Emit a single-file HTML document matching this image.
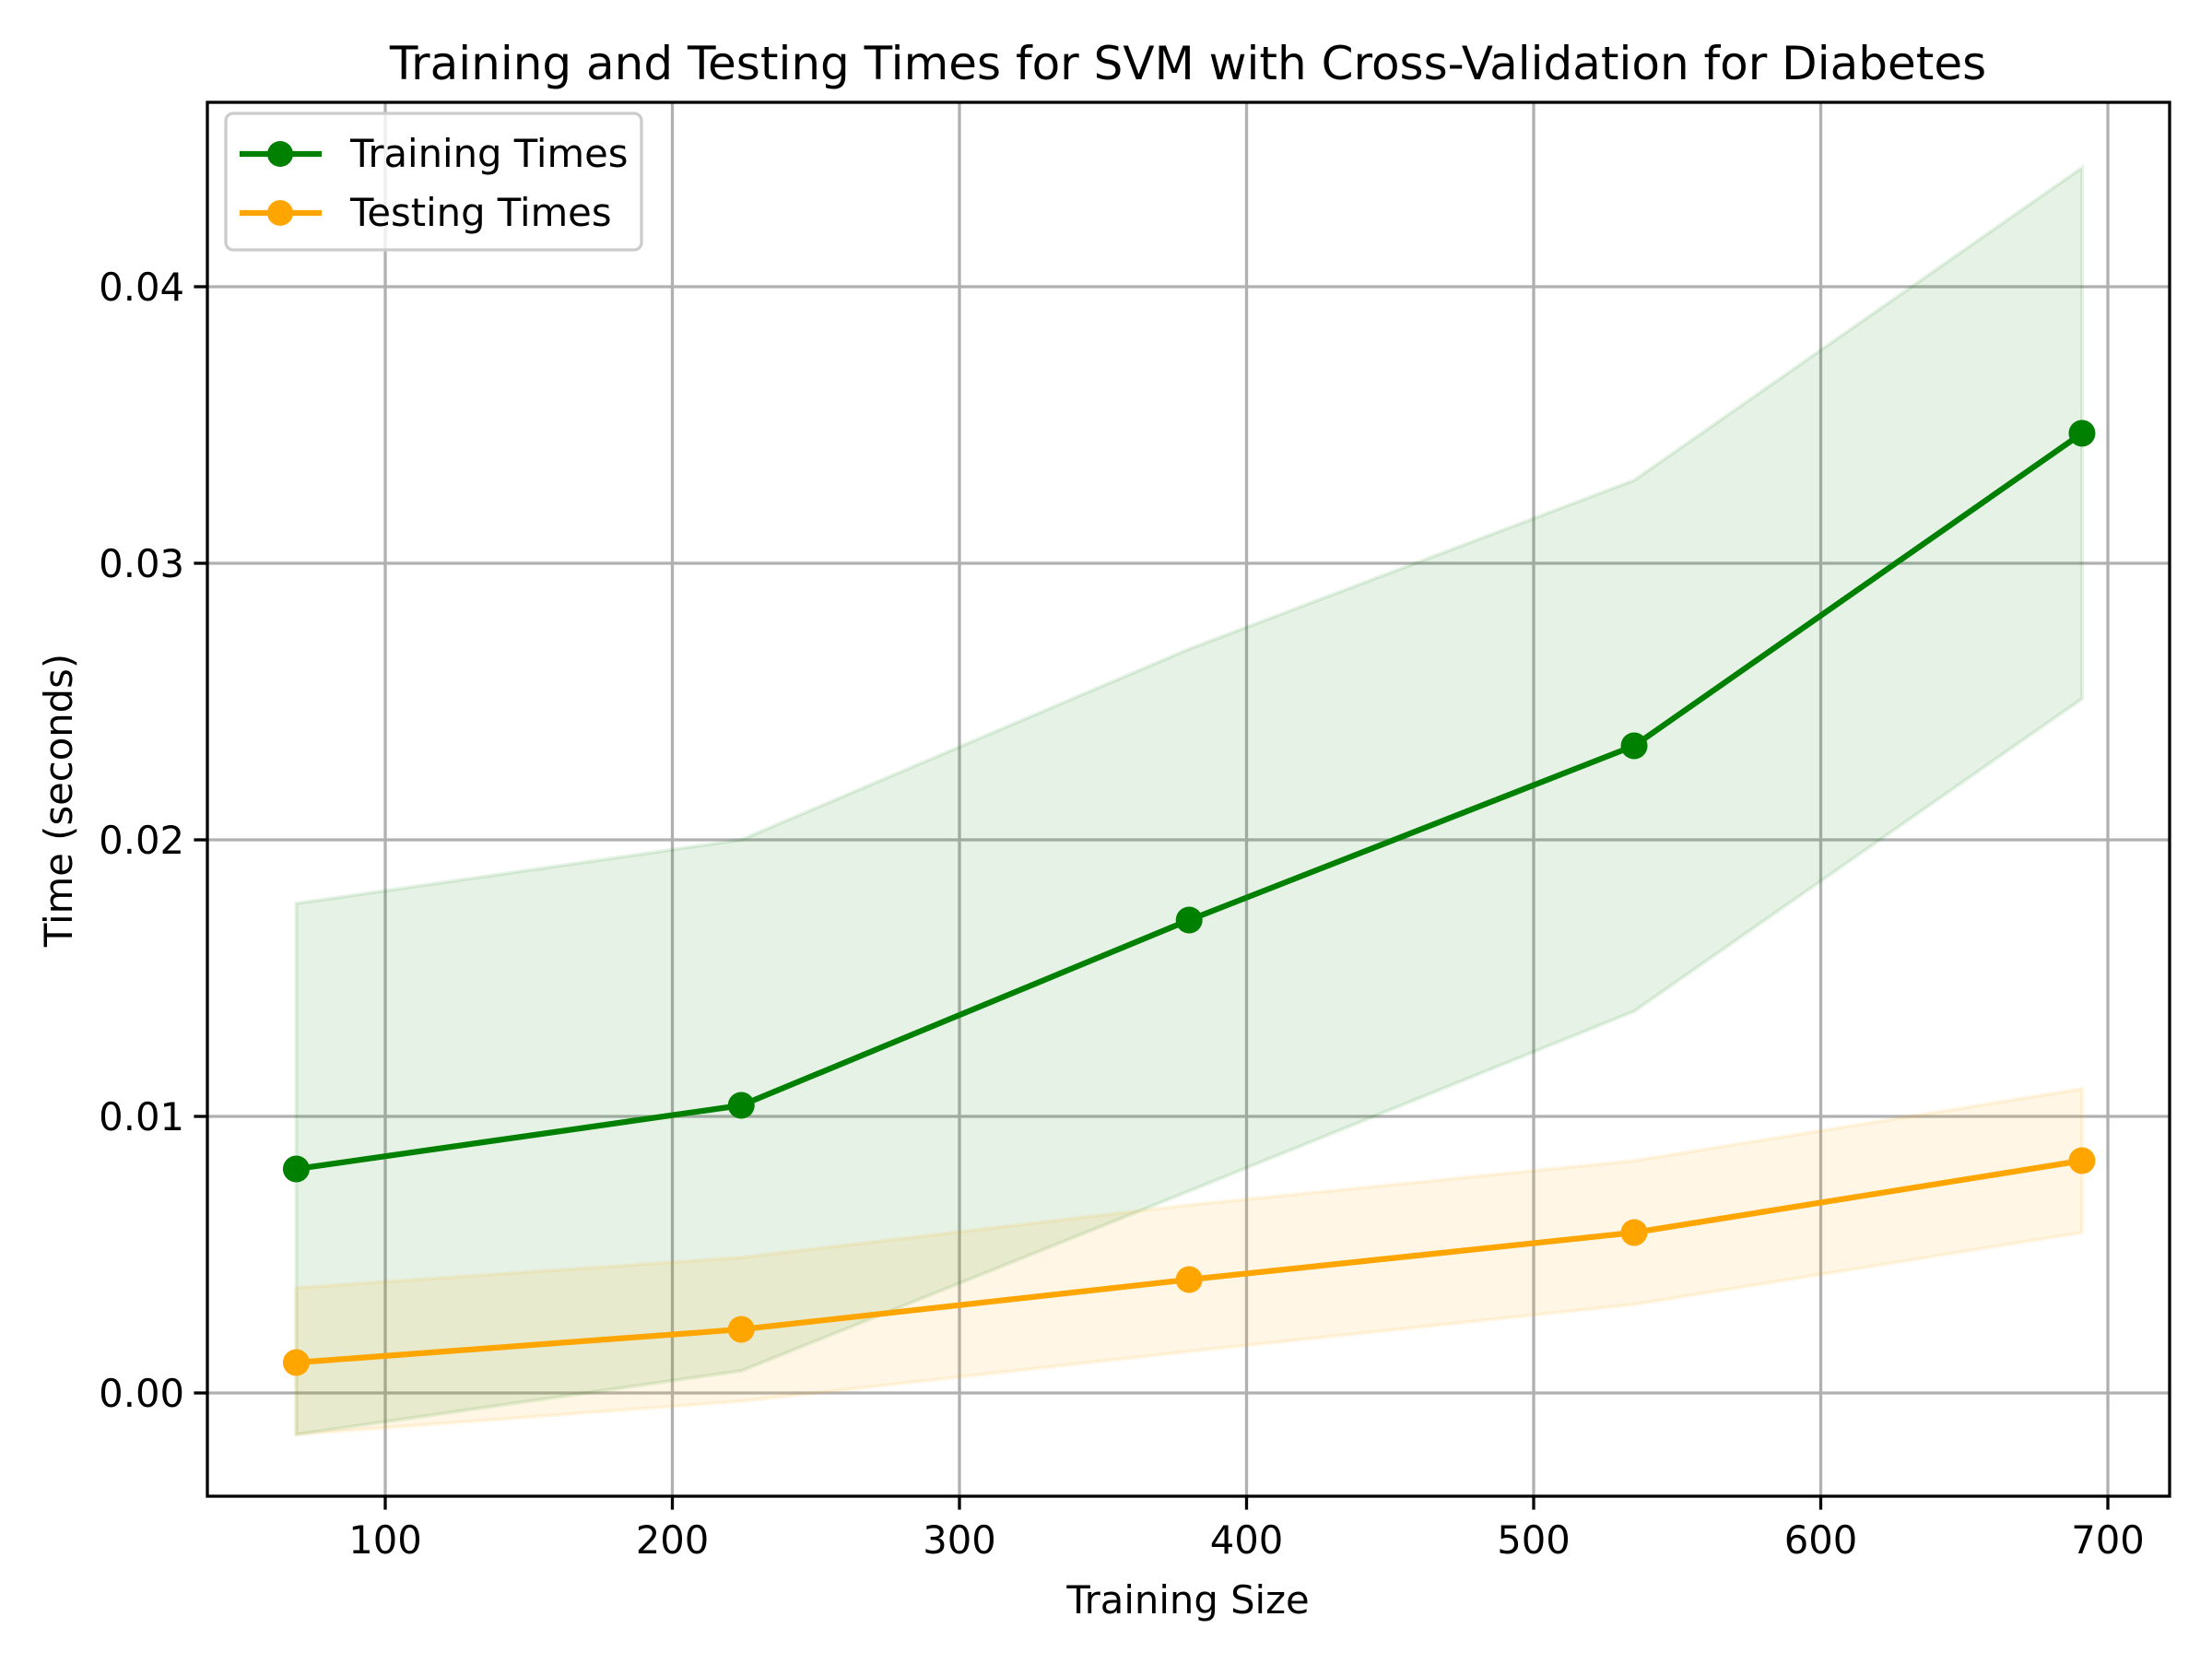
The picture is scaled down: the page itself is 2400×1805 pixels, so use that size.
<!DOCTYPE html>
<html><head><meta charset="utf-8"><style>
body{margin:0;background:#fff}
svg text{font-family:"DejaVu Sans","Liberation Sans",sans-serif}
</style></head><body>
<svg id="chart" width="2400" height="1800" viewBox="0 0 2400 1800" xmlns="http://www.w3.org/2000/svg">
<rect width="2400" height="1800" fill="#fff"/>
<g id="grid"></g>
<g id="bands"></g>
<g id="lines"></g>
<rect x="225" y="111" width="2129" height="1512" fill="none" stroke="#000" stroke-width="3.3"/>
<g id="ticks"></g>
<text x="1289" y="86" font-size="50" text-anchor="middle">Training and Testing Times for SVM with Cross-Validation for Diabetes</text>
<text x="1289" y="1750" font-size="41.7" text-anchor="middle">Training Size</text>
<text transform="translate(78,868) rotate(-90)" font-size="41.7" text-anchor="middle">Time (seconds)</text>
<g>
<rect x="245" y="123" width="451" height="148" rx="8" fill="#fff" fill-opacity="0.8" stroke="#ccc" stroke-width="3.3"/>
<g>
<line x1="260" y1="167" x2="349" y2="167" stroke="green" stroke-width="6.25"/>
<circle cx="304" cy="167" r="14" fill="green"/>
<text x="380" y="181" font-size="41.7">Training Times</text></g>
<g>
<line x1="260" y1="231" x2="349" y2="231" stroke="orange" stroke-width="6.25"/>
<circle cx="304" cy="231" r="14" fill="orange"/>
<text x="380" y="245" font-size="41.7">Testing Times</text></g>
</g>
</svg>
<script>
const sizes=[69,224,380,535,691];
const trainMean=[0.0081,0.0104,0.0171,0.0234,0.0347];
const trainUpper=[0.0177,0.0200,0.0269,0.0330,0.0443];
const trainLower=[-0.0015,0.0008,0.0073,0.0138,0.0251];
const testMean=[0.0011,0.0023,0.0041,0.0058,0.0084];
const testUpper=[0.0038,0.0049,0.0068,0.0084,0.0110];
const testLower=[-0.0015,-0.0003,0.0015,0.0032,0.0058];
const xTicks=[100,200,300,400,500,600,700];
const yTicks=[0,0.01,0.02,0.03,0.04];
const yTickLabels=["0.00","0.01","0.02","0.03","0.04"];
const L=225,R=2354,T=111,B=1623;
function sx(v){return 418+(v-100)*(2287-418)/600;}
function sy(v){return 1511-v*(1511-311)/0.04;}
const NS="http://www.w3.org/2000/svg";
function mk(p,t,a){const e=document.createElementNS(NS,t);for(const k in a)e.setAttribute(k,a[k]);p.appendChild(e);return e;}
const grid=document.getElementById('grid'),ticks=document.getElementById('ticks');
xTicks.forEach(v=>{const x=sx(v);
const g=mk(grid,'line',{x1:x,x2:x,y1:T,y2:B,stroke:'#b0b0b0','stroke-width':3.3});


const tk=mk(ticks,'line',{x1:x,x2:x,y1:B,y2:B+14.6,stroke:'#000','stroke-width':3.3});


const t=mk(ticks,'text',{x:x,y:B+62,'font-size':41.7,'text-anchor':'middle'});t.textContent=v;

});
yTicks.forEach((v,i)=>{const y=sy(v);
const g=mk(grid,'line',{x1:L,x2:R,y1:y,y2:y,stroke:'#b0b0b0','stroke-width':3.3});


const tk=mk(ticks,'line',{x1:L-14.6,x2:L,y1:y,y2:y,stroke:'#000','stroke-width':3.3});


const t=mk(ticks,'text',{x:L-25,y:y+15,'font-size':41.7,'text-anchor':'end'});t.textContent=yTickLabels[i];

});
function band(up,lo,col,name){
let d=sizes.map((s,i)=>(i?'L':'M')+sx(s)+','+sy(up[i])).join('');
for(let i=sizes.length-1;i>=0;i--)d+='L'+sx(sizes[i])+','+sy(lo[i]);
const p=mk(document.getElementById('bands'),'path',{d:d+'Z',fill:col,'fill-opacity':0.1,stroke:col,'stroke-opacity':0.1,'stroke-width':4});

}
band(trainUpper,trainLower,'green','training-std-band');
band(testUpper,testLower,'orange','testing-std-band');
function series(m,col,name){const g=document.getElementById('lines');
const pl=mk(g,'polyline',{points:sizes.map((s,i)=>sx(s)+','+sy(m[i])).join(' '),fill:'none',stroke:col,'stroke-width':6.25,'stroke-linejoin':'round'});


sizes.forEach((s,i)=>{const c=mk(g,'circle',{cx:sx(s),cy:sy(m[i]),r:14.5,fill:col});

});}
series(trainMean,'green','training-times');
series(testMean,'orange','testing-times');
</script>
</body></html>
